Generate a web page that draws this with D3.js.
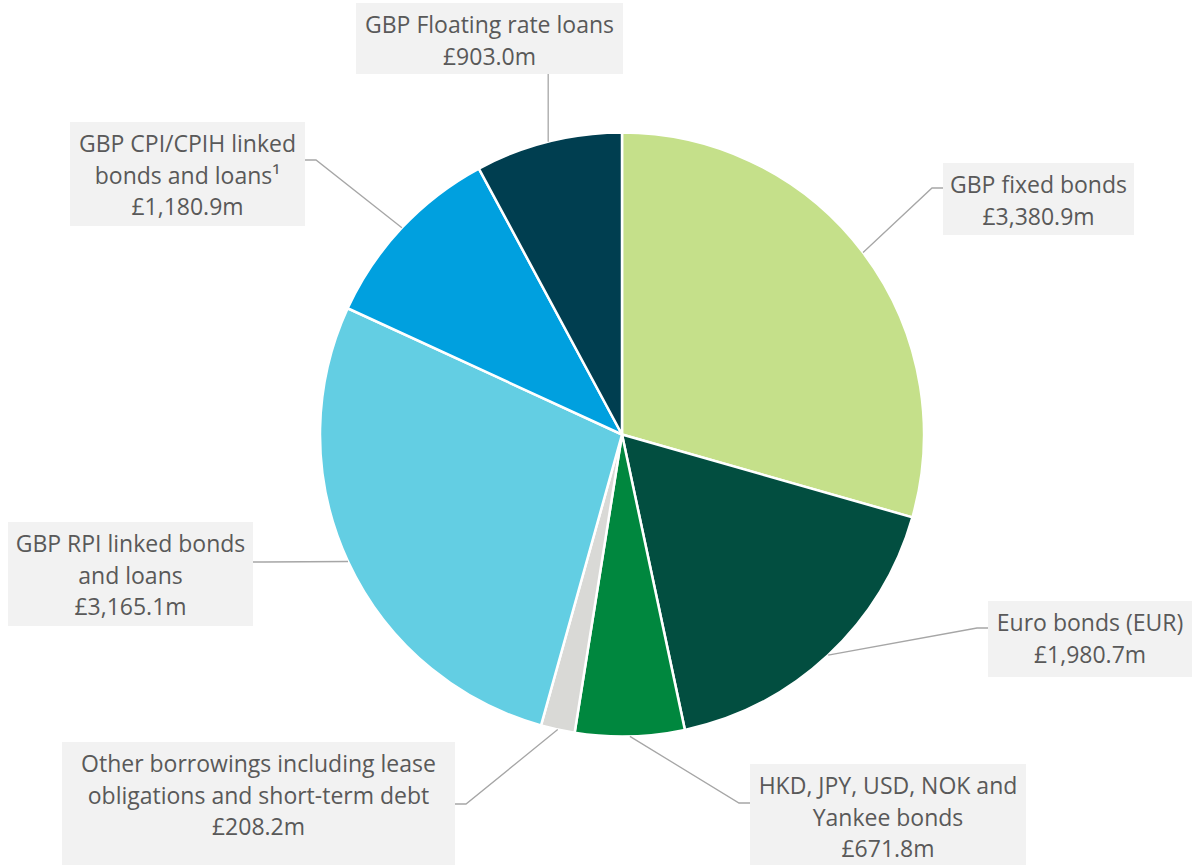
<!DOCTYPE html>
<html><head><meta charset="utf-8">
<script src="https://cdn.jsdelivr.net/npm/d3@7"></script>
<style>
body{margin:0;background:#fff;}
svg text{font-family:"Open Sans", Lato, sans-serif;fill:#595959;}
</style>
</head><body>
<svg id="chart" width="1192" height="865"></svg>
<script>
// ---- data ----
const categories = [
  "GBP fixed bonds",
  "Euro bonds (EUR)",
  "HKD, JPY, USD, NOK and Yankee bonds",
  "Other borrowings including lease obligations and short-term debt",
  "GBP RPI linked bonds and loans",
  "GBP CPI/CPIH linked bonds and loans¹",
  "GBP Floating rate loans"
];
const values = [3380.9, 1980.7, 671.8, 208.2, 3165.1, 1180.9, 903.0];
const valueLabels = ["£3,380.9m","£1,980.7m","£671.8m","£208.2m","£3,165.1m","£1,180.9m","£903.0m"];
const labelLines = [
  ["GBP fixed bonds"],
  ["Euro bonds (EUR)"],
  ["HKD, JPY, USD, NOK and","Yankee bonds"],
  ["Other borrowings including lease","obligations and short-term debt"],
  ["GBP RPI linked bonds","and loans"],
  ["GBP CPI/CPIH linked","bonds and loans¹"],
  ["GBP Floating rate loans"]
];
const colors = ["#C5E08A","#024E40","#00873E","#D9D9D6","#63CEE3","#00A0DF","#003E50"];

// ---- layout (label boxes) ----
const boxes = [
  {x0:943, y0:163, x1:1134, y1:235, side:"left",  ly:188},
  {x0:988, y0:601, x1:1192, y1:677, side:"left",  ly:628},
  {x0:750, y0:764, x1:1026, y1:872, side:"left",  ly:803},
  {x0:62,  y0:742, x1:455,  y1:872, side:"right", ly:804},
  {x0:8,   y0:522, x1:253,  y1:626, side:"right", ly:562},
  {x0:70,  y0:122, x1:305,  y1:226, side:"right", ly:160},
  {x0:356, y0:3,   x1:623,  y1:74,  side:"top"}
];

const cx = 622, cy = 434.5, R = 302;
const lineH = 31.5;

const svg = d3.select("#chart");
const data = categories.map((c,i)=>({cat:c, value:values[i], color:colors[i], lines:labelLines[i].concat([valueLabels[i]]), box:boxes[i]}));

// fit font size so the reference's widest line spans ~355px
const probe = svg.append("text").attr("font-size",20).text("Other borrowings including lease");
const fontSize = Math.min(24, 20 * 355 / probe.node().getComputedTextLength());
probe.remove();

const pie = d3.pie().value(d=>d.value).sort(null);
const arcs = pie(data);
const arc = d3.arc().innerRadius(0).outerRadius(R);

const g = svg.append("g").attr("transform",`translate(${cx},${cy})`);
g.selectAll("path").data(arcs).join("path")
  .attr("d", arc)
  .attr("fill", d=>d.data.color)
  .attr("stroke","#fff")
  .attr("stroke-width",2.5)
  .attr("stroke-linejoin","round");

// leader lines
const leaders = svg.append("g");
arcs.forEach(a=>{
  const mid = (a.startAngle + a.endAngle)/2;
  const px = cx + R*Math.sin(mid), py = cy - R*Math.cos(mid);
  const b = a.data.box;
  let pts;
  if (b.side === "top") {
    pts = [[px,py],[px,b.y1]];
  } else if (b.side === "left") {
    const ex = b.x0 - 11;
    pts = [[px,py],[ex,b.ly],[b.x0,b.ly]];
  } else {
    const ex = b.x1 + 11;
    pts = [[px,py],[ex,b.ly],[b.x1,b.ly]];
  }
  leaders.append("path")
    .attr("d", d3.line()(pts))
    .attr("fill","none")
    .attr("stroke","#A6A6A6")
    .attr("stroke-width",1.3);
});

// label boxes
const labels = svg.append("g");
data.forEach(d=>{
  const b = d.box;
  labels.append("rect")
    .attr("x",b.x0).attr("y",b.y0)
    .attr("width",b.x1-b.x0).attr("height",b.y1-b.y0)
    .attr("fill","#F2F2F2");
  const t = labels.append("text")
    .attr("text-anchor","middle")
    .attr("font-size",fontSize);
  d.lines.forEach((ln,i)=>{
    t.append("tspan")
      .attr("x",(b.x0+b.x1)/2)
      .attr("y",b.y0 + 30 + i*lineH)
      .text(ln);
  });
});
</script>
</body></html>
